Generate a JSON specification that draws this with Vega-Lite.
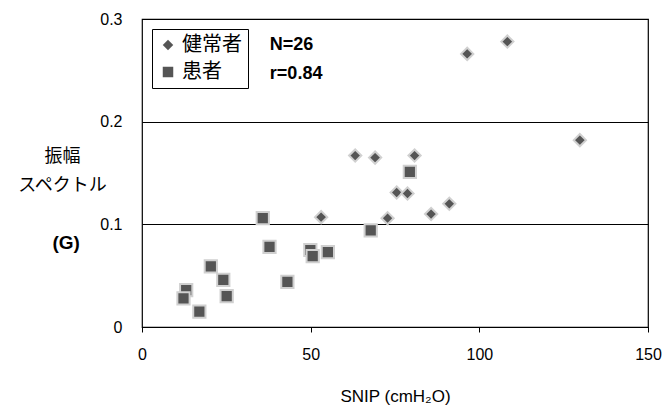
{
  "$schema": "https://vega.github.io/schema/vega-lite/v6.json",
  "width": 506,
  "height": 308,
  "autosize": "none",
  "padding": {"left": 142, "top": 19, "right": 23, "bottom": 86},
  "background": "white",
  "config": {
    "view": {"stroke": "black", "strokeWidth": 1.2},
    "font": "Liberation Sans"
  },
  "layer": [
    {
      "data": {
        "values": [
          {"group": "健常者", "snip": 96.4, "g": 0.266},
          {"group": "健常者", "snip": 108.3, "g": 0.278},
          {"group": "健常者", "snip": 129.8, "g": 0.182},
          {"group": "健常者", "snip": 63.2, "g": 0.167},
          {"group": "健常者", "snip": 69.1, "g": 0.165},
          {"group": "健常者", "snip": 80.8, "g": 0.167},
          {"group": "健常者", "snip": 75.5, "g": 0.131},
          {"group": "健常者", "snip": 78.7, "g": 0.130},
          {"group": "健常者", "snip": 91.1, "g": 0.120},
          {"group": "健常者", "snip": 85.7, "g": 0.110},
          {"group": "健常者", "snip": 72.8, "g": 0.106},
          {"group": "健常者", "snip": 53.1, "g": 0.107},
          {"group": "患者", "snip": 79.4, "g": 0.151},
          {"group": "患者", "snip": 67.8, "g": 0.094},
          {"group": "患者", "snip": 35.8, "g": 0.106},
          {"group": "患者", "snip": 37.8, "g": 0.078},
          {"group": "患者", "snip": 49.9, "g": 0.075},
          {"group": "患者", "snip": 50.6, "g": 0.069},
          {"group": "患者", "snip": 55.1, "g": 0.073},
          {"group": "患者", "snip": 43.1, "g": 0.044},
          {"group": "患者", "snip": 20.4, "g": 0.059},
          {"group": "患者", "snip": 24.1, "g": 0.046},
          {"group": "患者", "snip": 25.1, "g": 0.030},
          {"group": "患者", "snip": 13.1, "g": 0.036},
          {"group": "患者", "snip": 12.3, "g": 0.028},
          {"group": "患者", "snip": 17.0, "g": 0.015}
        ]
      },
      "mark": {"type": "point", "filled": true, "size": 150, "fill": "#555555", "stroke": "#d0d0d0", "strokeWidth": 2, "fillOpacity": 1, "strokeOpacity": 1},
      "encoding": {
        "x": {
          "field": "snip", "type": "quantitative",
          "scale": {"domain": [0, 150], "nice": false},
          "axis": {
            "values": [0, 50, 100, 150], "format": "d", "grid": false, "labelFlush": false,
            "title": "SNIP (cmH₂O)", "titleFont": "Liberation Sans Narrow, Liberation Sans",
            "titleFontSize": 17, "titleFontWeight": "normal", "titleColor": "black", "titlePadding": 26,
            "labelFontSize": 16, "labelColor": "black", "labelPadding": 14,
            "tickSize": 5, "tickColor": "black", "domain": false
          }
        },
        "y": {
          "field": "g", "type": "quantitative",
          "scale": {"domain": [0, 0.3], "nice": false},
          "axis": {
            "values": [0, 0.1, 0.2, 0.3], "format": ".1~f", "labelFlush": false,
            "grid": true, "gridColor": "black", "gridWidth": 1.2, "gridOpacity": 1,
            "ticks": false, "domain": false,
            "labelFontSize": 16, "labelColor": "black", "labelPadding": 20,
            "title": ["振幅", "スペクトル"], "titleAngle": 0, "titleAlign": "center",
            "titleBaseline": "top", "titleX": -80, "titleY": 128,
            "titleFont": "Noto Sans CJK JP", "titleFontSize": 18, "titleFontWeight": "normal",
            "titleColor": "black", "titleLineHeight": 29
          }
        },
        "shape": {
          "field": "group", "type": "nominal",
          "scale": {"domain": ["健常者", "患者"], "range": ["diamond", "square"]},
          "legend": {
            "title": null, "orient": "none", "legendX": 10, "legendY": 10,
            "strokeColor": "black", "padding": 6, "fillColor": "white",
            "labelFont": "Noto Sans CJK JP", "labelFontSize": 20, "labelColor": "black",
            "symbolSize": 110, "symbolFillColor": "#555555", "symbolStrokeColor": "#d0d0d0",
            "symbolStrokeWidth": 1, "rowPadding": 7, "labelOffset": 4, "symbolOffset": 0
          }
        }
      }
    },
    {
      "data": {"values": [{}]},
      "mark": {"type": "text", "align": "left", "baseline": "middle", "fontSize": 18, "fontWeight": "bold", "color": "black", "font": "Liberation Sans"},
      "encoding": {
        "x": {"datum": 37.9, "type": "quantitative"},
        "y": {"datum": 0.2747, "type": "quantitative"},
        "text": {"value": "N=26"}
      }
    },
    {
      "data": {"values": [{}]},
      "mark": {"type": "text", "align": "left", "baseline": "middle", "fontSize": 18, "fontWeight": "bold", "color": "black", "font": "Liberation Sans"},
      "encoding": {
        "x": {"datum": 37.9, "type": "quantitative"},
        "y": {"datum": 0.2464, "type": "quantitative"},
        "text": {"value": "r=0.84"}
      }
    },
    {
      "data": {"values": [{}]},
      "mark": {"type": "text", "align": "center", "baseline": "middle", "fontSize": 19, "fontWeight": "bold", "color": "black", "font": "Liberation Sans"},
      "encoding": {
        "x": {"datum": -22.5, "type": "quantitative"},
        "y": {"datum": 0.082, "type": "quantitative"},
        "text": {"value": "(G)"}
      }
    }
  ]
}
